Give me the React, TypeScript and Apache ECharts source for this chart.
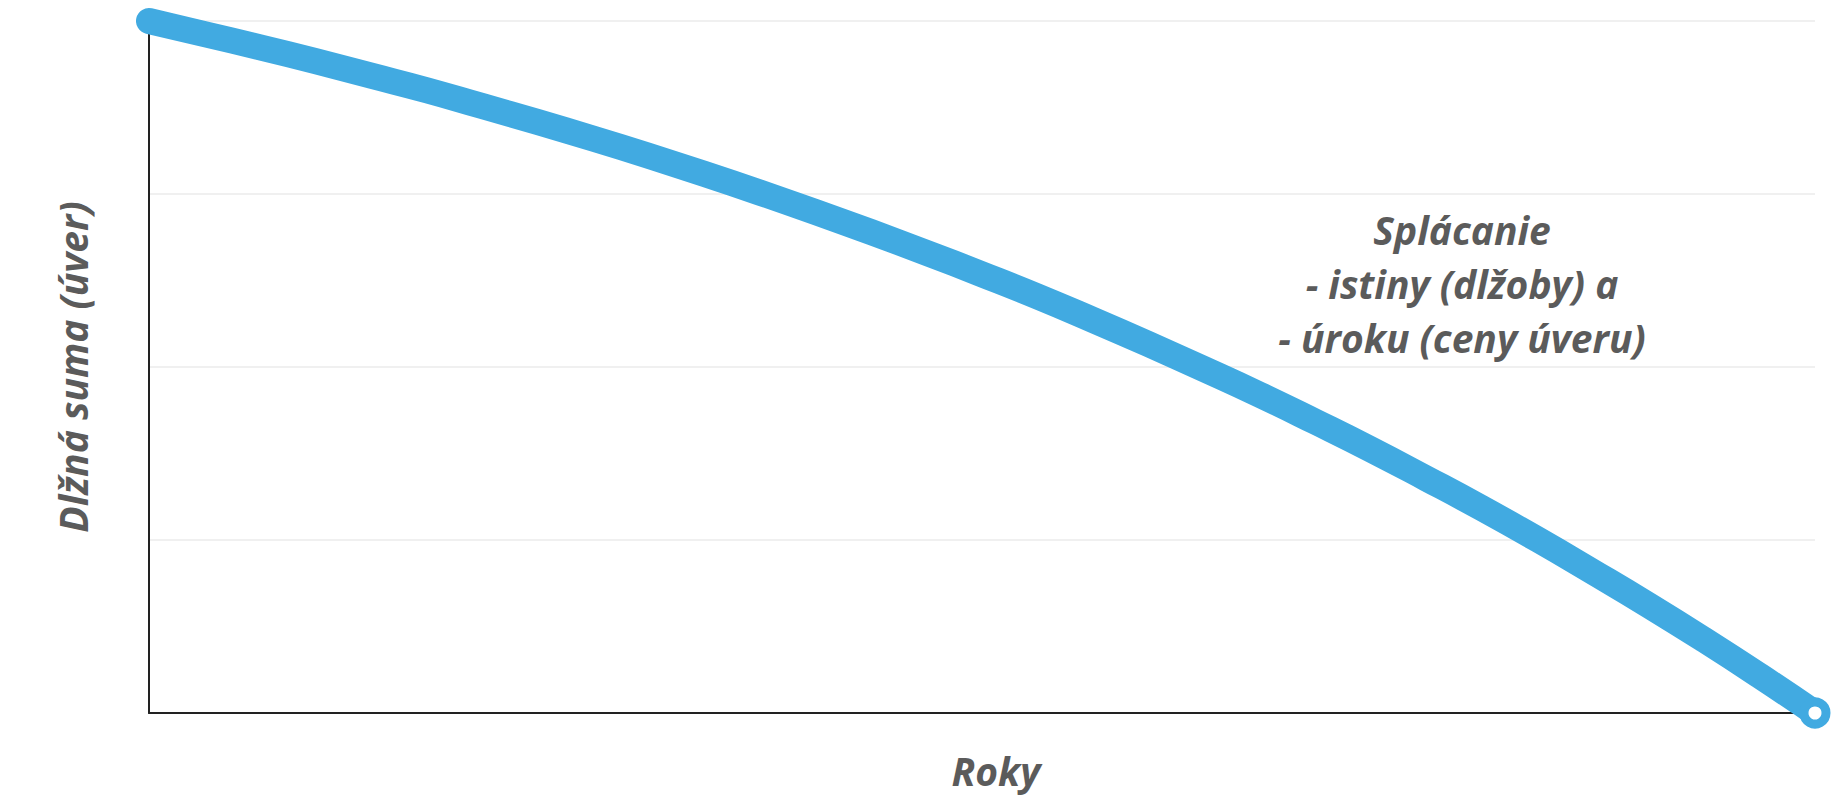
import React, { useEffect, useRef } from "react";
import * as echarts from "echarts";

const years: number[] = [
  0, 1, 2, 3, 4, 5, 6, 7, 8, 9, 10, 11, 12, 13, 14, 15, 16, 17, 18, 19, 20,
  21, 22, 23, 24, 25, 26, 27, 28, 29, 30,
];
const balance: number[] = [
  100, 98.1, 96.2, 94.2, 92.1, 90.0, 87.7, 85.4, 83.0, 80.5, 77.9, 75.2, 72.4,
  69.5, 66.5, 63.4, 60.2, 56.8, 53.3, 49.7, 46.0, 42.1, 38.1, 33.9, 29.6, 25.1,
  20.4, 15.6, 10.6, 5.4, 0,
];
const yAxisTitle = "Dlžná suma (úver)";
const xAxisTitle = "Roky";
const noteLines: string[] = [
  "Splácanie",
  "- istiny (dlžoby) a",
  "- úroku (ceny úveru)",
];

const LINE_COLOR = "#41aae1";
const TEXT_COLOR = "#5b5b5b";
const FONT = "'Open Sans', 'Noto Sans', sans-serif";

export default function App() {
  const ref = useRef<HTMLDivElement>(null);
  useEffect(() => {
    document.body.style.margin = "0";
    if (!ref.current) return;
    const chart = echarts.init(ref.current, undefined, { renderer: "svg" });
    const lastIdx = balance.length - 1;
    const seriesData = years.map((y, i) => {
      if (i === lastIdx) {
        return {
          value: [y, balance[i]],
          symbol: "circle",
          symbolSize: 22,
          itemStyle: { color: "#ffffff", borderColor: LINE_COLOR, borderWidth: 9 },
        };
      }
      return { value: [y, balance[i]], symbol: "none" };
    });
    chart.setOption({
      animation: false,
      grid: { left: 149, right: 20, top: 21, bottom: 93, containLabel: false },
      xAxis: {
        type: "value",
        min: 0,
        max: 30,
        axisLine: { show: true, onZero: false, lineStyle: { color: "#222", width: 2 } },
        axisTick: { show: false },
        axisLabel: { show: false },
        splitLine: { show: false },
      },
      yAxis: {
        type: "value",
        min: 0,
        max: 100,
        interval: 25,
        axisLine: { show: true, lineStyle: { color: "#222", width: 2 } },
        axisTick: { show: false },
        axisLabel: { show: false },
        splitLine: { show: true, lineStyle: { color: "#ebebeb", width: 1.5 } },
      },
      series: [
        {
          type: "line",
          data: seriesData,
          clip: false,
          smooth: 0.5,
          showSymbol: true,
          lineStyle: { color: LINE_COLOR, width: 26, cap: "round", join: "round" },
          itemStyle: { color: LINE_COLOR },
          z: 5,
        },
      ],
      graphic: [
        {
          type: "text",
          x: 72,
          y: 367,
          rotation: Math.PI / 2,
          style: {
            text: yAxisTitle,
            font: `italic bold 39px ${FONT}`,
            fill: TEXT_COLOR,
            textAlign: "center",
            textVerticalAlign: "middle",
          },
        },
        {
          type: "text",
          x: 996,
          y: 770,
          style: {
            text: xAxisTitle,
            font: `italic bold 39px ${FONT}`,
            fill: TEXT_COLOR,
            textAlign: "center",
            textVerticalAlign: "middle",
          },
        },
        {
          type: "text",
          x: 1462,
          y: 283,
          style: {
            text: noteLines.join("\n"),
            font: `italic bold 39px ${FONT}`,
            lineHeight: 54,
            fill: TEXT_COLOR,
            textAlign: "center",
            textVerticalAlign: "middle",
          },
        },
      ],
    });
    return () => chart.dispose();
  }, []);
  return (
    <div
      ref={ref}
      style={{ position: "absolute", left: 0, top: 0, width: 1835, height: 806 }}
    />
  );
}
